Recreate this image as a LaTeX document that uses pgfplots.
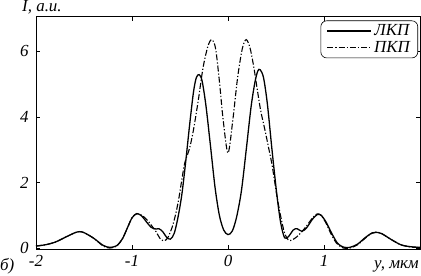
\documentclass[border=0pt]{standalone}
\usepackage{pgfplots}
\pgfplotsset{compat=1.18}
\usepackage{fontspec}
\setmainfont{Liberation Serif}
\usetikzlibrary{calc}
\begin{document}
\begin{tikzpicture}
\begin{axis}[name=ax,
  scale only axis, width=384bp, height=232bp,
  xmin=-2, xmax=2, ymin=-0.03, ymax=7.05,
  xtick={-2,-1,0,1}, ytick={0,2,4,6},
  tick align=inside, major tick length=4bp,
  tick style={black, line width=0.6pt},
  axis line style={line width=1pt},
  /pgf/number format/assume math mode=true,
  ticklabel style={font=\fontsize{17}{19}\selectfont\itshape},
  xticklabel style={yshift=-3bp},
  yticklabel style={xshift=-4bp},
  clip=false,
  legend style={at={(rel axis cs:0.995,0.985)}, anchor=north east, draw=black, rounded corners=6pt, line width=0.6pt, font=\fontsize{17}{17}\selectfont\itshape, row sep=0bp, inner xsep=6bp, inner ysep=2bp, nodes={inner sep=2bp}},
  legend image code/.code={\draw[#1] (0cm,0cm) -- (1.55cm,0cm);},
]
\addplot[black, line width=1.3pt, smooth, tension=0.5] coordinates {
(-2.0,0.06) (-1.9,0.1) (-1.8,0.18) (-1.7,0.32) (-1.6,0.46) (-1.55,0.5) (-1.5,0.47)
(-1.4,0.3) (-1.3,0.08) (-1.23,0.02) (-1.16,0.07) (-1.1,0.28) (-1.05,0.6) (-1.0,0.92)
(-0.95,1.05) (-0.9,0.98) (-0.85,0.8) (-0.8,0.63) (-0.75,0.58) (-0.72,0.59) (-0.68,0.5)
(-0.64,0.33) (-0.6,0.27) (-0.56,0.45) (-0.52,0.95) (-0.48,1.65) (-0.44,2.65) (-0.40,3.75)
(-0.36,4.75) (-0.33,5.2) (-0.30,5.29) (-0.27,5.1) (-0.23,4.35) (-0.18,3.05) (-0.135,1.85)
(-0.09,1.0) (-0.045,0.55) (0,0.41) (0.045,0.52) (0.09,0.95) (0.14,1.75) (0.19,3.0)
(0.24,4.3) (0.28,5.05) (0.31,5.4) (0.335,5.44) (0.37,5.2) (0.41,4.4) (0.46,2.95)
(0.51,1.6) (0.55,0.75) (0.59,0.31) (0.63,0.35) (0.68,0.55) (0.72,0.59) (0.77,0.51)
(0.82,0.62) (0.88,0.88) (0.93,1.02) (0.97,1.0) (1.02,0.8) (1.08,0.45) (1.14,0.15)
(1.2,0.03) (1.27,0.02) (1.35,0.12) (1.43,0.32) (1.5,0.46) (1.54,0.48) (1.6,0.44)
(1.7,0.26) (1.8,0.1) (1.9,0.04) (2.0,0.02)
};
\addlegendentry{ЛКП}
\addplot[black, line width=1.1pt, smooth, tension=0.5, dash pattern=on 6bp off 2bp on 1.2bp off 2bp] coordinates {
(-2.0,0.06) (-1.9,0.1) (-1.8,0.18) (-1.7,0.32) (-1.6,0.46) (-1.55,0.5) (-1.5,0.47)
(-1.4,0.3) (-1.3,0.06) (-1.23,0.0) (-1.16,0.06) (-1.1,0.28) (-1.05,0.6) (-1.0,0.92)
(-0.95,1.05) (-0.9,1.0) (-0.85,0.88) (-0.8,0.7) (-0.75,0.5) (-0.71,0.3) (-0.67,0.22)
(-0.63,0.3) (-0.58,0.65) (-0.54,1.1) (-0.51,1.55) (-0.48,2.1) (-0.45,2.6) (-0.40,3.05)
(-0.36,3.6) (-0.31,4.5) (-0.26,5.5) (-0.21,6.15) (-0.17,6.36) (-0.13,6.1) (-0.09,5.1)
(-0.05,3.9) (0,2.9) (0.05,3.9) (0.1,5.2) (0.15,6.1) (0.19,6.36) (0.23,6.1)
(0.27,5.5) (0.30,4.93) (0.34,4.2) (0.385,3.6) (0.42,3.1) (0.455,2.6) (0.485,2.05)
(0.51,1.58) (0.55,0.95) (0.59,0.45) (0.63,0.24) (0.67,0.25) (0.72,0.35) (0.77,0.5)
(0.82,0.68) (0.87,0.88) (0.92,1.03) (0.96,1.02) (1.01,0.82) (1.07,0.45) (1.13,0.15)
(1.2,0.0) (1.27,0.0) (1.35,0.1) (1.43,0.3) (1.5,0.45) (1.54,0.48) (1.6,0.44)
(1.7,0.26) (1.8,0.1) (1.9,0.03) (2.0,0.02)
};
\addlegendentry{ПКП}
\end{axis}
\node[anchor=base west, font=\fontsize{17}{19}\selectfont\itshape, inner sep=0pt] at ($(ax.north west)+(-14bp,5bp)$) {I, a.u.};
\node[anchor=base east, font=\fontsize{17}{19}\selectfont\itshape, inner sep=0pt] at ($(ax.south east)+(-1bp,-19bp)$) {y, мкм};
\node[anchor=base west, font=\fontsize{17}{19}\selectfont\itshape, inner sep=0pt] at ($(ax.south west)+(-36bp,-21bp)$) {б)};
\pgfresetboundingbox
\useasboundingbox ($(ax.south west)+(-36bp,-27bp)$) rectangle ($(ax.north east)+(1bp,17bp)$);
\end{tikzpicture}
\end{document}
